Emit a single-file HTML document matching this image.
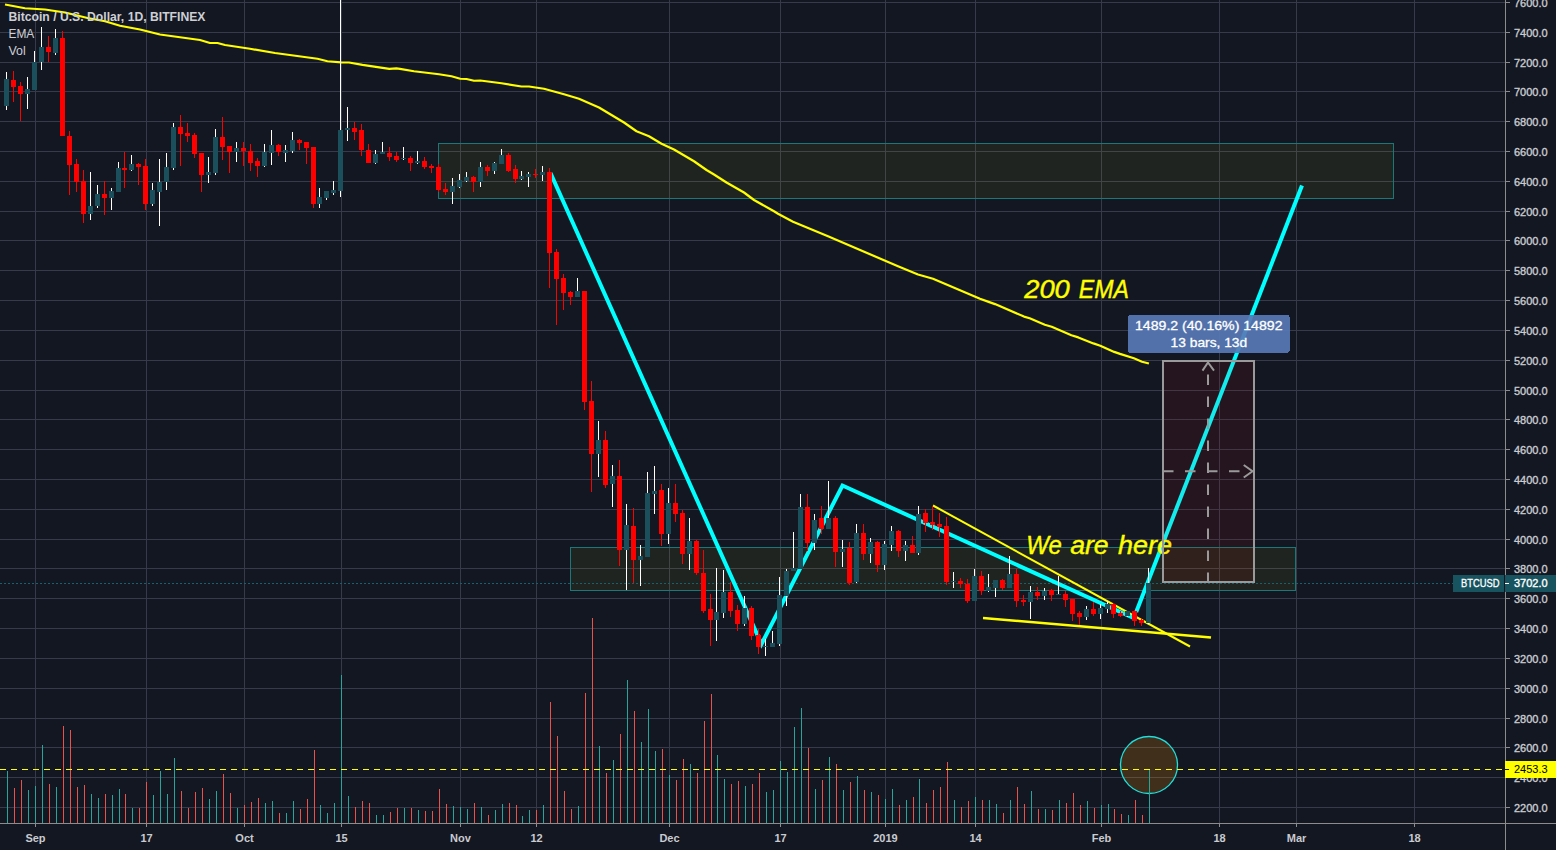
<!DOCTYPE html>
<html><head><meta charset="utf-8"><title>BTCUSD chart</title>
<style>html,body{margin:0;padding:0;background:#131722;width:1556px;height:850px;overflow:hidden}svg{display:block}text{font-family:"Liberation Sans",sans-serif}text,line,polyline,circle{shape-rendering:auto}</style>
</head><body>
<svg width="1556" height="850" viewBox="0 0 1556 850" shape-rendering="crispEdges"><g fill="#363a4a"><rect x="0" y="2" width="1505" height="1"/><rect x="0" y="32" width="1505" height="1"/><rect x="0" y="62" width="1505" height="1"/><rect x="0" y="91" width="1505" height="1"/><rect x="0" y="121" width="1505" height="1"/><rect x="0" y="151" width="1505" height="1"/><rect x="0" y="181" width="1505" height="1"/><rect x="0" y="211" width="1505" height="1"/><rect x="0" y="240" width="1505" height="1"/><rect x="0" y="270" width="1505" height="1"/><rect x="0" y="300" width="1505" height="1"/><rect x="0" y="330" width="1505" height="1"/><rect x="0" y="360" width="1505" height="1"/><rect x="0" y="390" width="1505" height="1"/><rect x="0" y="419" width="1505" height="1"/><rect x="0" y="449" width="1505" height="1"/><rect x="0" y="479" width="1505" height="1"/><rect x="0" y="509" width="1505" height="1"/><rect x="0" y="539" width="1505" height="1"/><rect x="0" y="568" width="1505" height="1"/><rect x="0" y="598" width="1505" height="1"/><rect x="0" y="628" width="1505" height="1"/><rect x="0" y="658" width="1505" height="1"/><rect x="0" y="688" width="1505" height="1"/><rect x="0" y="718" width="1505" height="1"/><rect x="0" y="747" width="1505" height="1"/><rect x="0" y="777" width="1505" height="1"/><rect x="0" y="807" width="1505" height="1"/><rect x="35" y="0" width="1" height="823"/><rect x="146" y="0" width="1" height="823"/><rect x="244" y="0" width="1" height="823"/><rect x="341" y="0" width="1" height="823"/><rect x="460" y="0" width="1" height="823"/><rect x="536" y="0" width="1" height="823"/><rect x="669" y="0" width="1" height="823"/><rect x="780" y="0" width="1" height="823"/><rect x="885" y="0" width="1" height="823"/><rect x="975" y="0" width="1" height="823"/><rect x="1101" y="0" width="1" height="823"/><rect x="1219" y="0" width="1" height="823"/><rect x="1296" y="0" width="1" height="823"/><rect x="1414" y="0" width="1" height="823"/></g>
<rect x="438.5" y="143.5" width="954.5" height="55" fill="rgba(255,255,0,0.06)" stroke="#1b7878" stroke-width="1"/>
<rect x="570.5" y="547.5" width="725" height="43" fill="rgba(255,255,0,0.06)" stroke="#1b7878" stroke-width="1"/>
<line x1="0" y1="583.5" x2="1453" y2="583.5" stroke="#1c5f6c" stroke-width="1" stroke-dasharray="2 2"/>
<circle cx="1149" cy="765" r="28.5" fill="rgba(255,152,0,0.19)" stroke="#1ee0dc" stroke-width="1.3"/>
<line x1="933" y1="505.5" x2="1190" y2="646.5" stroke="#ffff00" stroke-width="2"/>
<line x1="983" y1="618" x2="1211" y2="637.5" stroke="#ffff00" stroke-width="2.5"/>
<polyline points="550.5,173 761.5,644 842.5,485.5 1133,617.7" fill="none" stroke="#00ffff" stroke-width="4" stroke-linejoin="miter" stroke-miterlimit="10"/>
<line x1="1136.2" y1="612" x2="1302" y2="185.5" stroke="#00ffff" stroke-width="4"/>
<text x="1024.3" y="298" font-family="Liberation Sans, sans-serif" font-style="italic" font-size="25" fill="#ffff00" stroke="#ffff00" stroke-width="0.4" lengthAdjust="spacingAndGlyphs" textLength="45.5">200</text>
<text x="1078.8" y="298" font-family="Liberation Sans, sans-serif" font-style="italic" font-size="25" fill="#ffff00" stroke="#ffff00" stroke-width="0.4" lengthAdjust="spacingAndGlyphs" textLength="50">EMA</text>
<text x="1026.3" y="554.25" font-family="Liberation Sans, sans-serif" font-style="italic" font-size="25" fill="#ffff00" stroke="#ffff00" stroke-width="0.4" lengthAdjust="spacingAndGlyphs" textLength="35.5">We</text>
<text x="1070.2" y="554.25" font-family="Liberation Sans, sans-serif" font-style="italic" font-size="25" fill="#ffff00" stroke="#ffff00" stroke-width="0.4" lengthAdjust="spacingAndGlyphs" textLength="38.5">are</text>
<text x="1118" y="554.25" font-family="Liberation Sans, sans-serif" font-style="italic" font-size="25" fill="#ffff00" stroke="#ffff00" stroke-width="0.4" lengthAdjust="spacingAndGlyphs" textLength="54">here</text>
<rect x="1163" y="360.8" width="90.75" height="220.7" fill="rgba(255,0,0,0.075)"/>
<rect x="1163" y="360.8" width="90.75" height="220.7" fill="none" stroke="#9a9a9a" stroke-width="2"/>
<g stroke="#9a9a9a" stroke-width="2" fill="none"><line x1="1208" y1="581" x2="1208" y2="363" stroke-dasharray="10.5 11.5" stroke-dashoffset="2"/><line x1="1163" y1="471.25" x2="1252" y2="471.25" stroke-dasharray="10.5 11.5"/><polyline points="1202.5,370.6 1208,362.5 1214,370.6"/><polyline points="1243.75,465 1252.5,471.25 1243.75,477.5"/></g>
<rect x="1127.75" y="315" width="162" height="37.75" rx="3" fill="rgba(88,122,182,0.92)"/>
<text x="1135" y="330" font-family="Liberation Sans, sans-serif" font-size="12.5" fill="#ffffff" stroke="#ffffff" stroke-width="0.3" textLength="147.5" lengthAdjust="spacingAndGlyphs">1489.2 (40.16%) 14892</text>
<text x="1170.6" y="347" font-family="Liberation Sans, sans-serif" font-size="12.5" fill="#ffffff" stroke="#ffffff" stroke-width="0.3" textLength="76.6" lengthAdjust="spacingAndGlyphs">13 bars, 13d</text>
<g fill="#e8524a"><rect x="14" y="788" width="1" height="35"/><rect x="21" y="780" width="1" height="43"/><rect x="49" y="784" width="1" height="39"/><rect x="63" y="726" width="1" height="97"/><rect x="70" y="730" width="1" height="93"/><rect x="77" y="787" width="1" height="36"/><rect x="84" y="785" width="1" height="38"/><rect x="105" y="794" width="1" height="29"/><rect x="125" y="794" width="1" height="29"/><rect x="139" y="808" width="1" height="15"/><rect x="146" y="782" width="1" height="41"/><rect x="181" y="791" width="1" height="32"/><rect x="188" y="808" width="1" height="15"/><rect x="195" y="792" width="1" height="31"/><rect x="202" y="788" width="1" height="35"/><rect x="223" y="774" width="1" height="49"/><rect x="230" y="793" width="1" height="30"/><rect x="244" y="805" width="1" height="18"/><rect x="251" y="802" width="1" height="21"/><rect x="258" y="798" width="1" height="25"/><rect x="279" y="813" width="1" height="10"/><rect x="300" y="809" width="1" height="14"/><rect x="307" y="799" width="1" height="24"/><rect x="314" y="750" width="1" height="73"/><rect x="355" y="807" width="1" height="16"/><rect x="362" y="801" width="1" height="22"/><rect x="369" y="803" width="1" height="20"/><rect x="390" y="812" width="1" height="11"/><rect x="397" y="808" width="1" height="15"/><rect x="411" y="808" width="1" height="15"/><rect x="425" y="811" width="1" height="12"/><rect x="432" y="811" width="1" height="12"/><rect x="439" y="789" width="1" height="34"/><rect x="446" y="804" width="1" height="19"/><rect x="474" y="803" width="1" height="20"/><rect x="488" y="815" width="1" height="8"/><rect x="509" y="803" width="1" height="20"/><rect x="516" y="805" width="1" height="18"/><rect x="536" y="810" width="1" height="13"/><rect x="550" y="702" width="1" height="121"/><rect x="557" y="736" width="1" height="87"/><rect x="564" y="791" width="1" height="32"/><rect x="571" y="809" width="1" height="14"/><rect x="585" y="693" width="1" height="130"/><rect x="592" y="618" width="1" height="205"/><rect x="606" y="773" width="1" height="50"/><rect x="620" y="734" width="1" height="89"/><rect x="634" y="711" width="1" height="112"/><rect x="662" y="749" width="1" height="74"/><rect x="676" y="780" width="1" height="43"/><rect x="683" y="759" width="1" height="64"/><rect x="697" y="773" width="1" height="50"/><rect x="704" y="721" width="1" height="102"/><rect x="711" y="694" width="1" height="129"/><rect x="731" y="784" width="1" height="39"/><rect x="738" y="781" width="1" height="42"/><rect x="752" y="784" width="1" height="39"/><rect x="759" y="773" width="1" height="50"/><rect x="808" y="748" width="1" height="75"/><rect x="822" y="780" width="1" height="43"/><rect x="836" y="764" width="1" height="59"/><rect x="850" y="782" width="1" height="41"/><rect x="864" y="790" width="1" height="33"/><rect x="878" y="795" width="1" height="28"/><rect x="899" y="805" width="1" height="18"/><rect x="913" y="797" width="1" height="26"/><rect x="926" y="803" width="1" height="20"/><rect x="933" y="790" width="1" height="33"/><rect x="940" y="787" width="1" height="36"/><rect x="947" y="762" width="1" height="61"/><rect x="961" y="807" width="1" height="16"/><rect x="968" y="801" width="1" height="22"/><rect x="982" y="800" width="1" height="23"/><rect x="1003" y="813" width="1" height="10"/><rect x="1017" y="787" width="1" height="36"/><rect x="1024" y="804" width="1" height="19"/><rect x="1038" y="809" width="1" height="14"/><rect x="1052" y="810" width="1" height="13"/><rect x="1066" y="803" width="1" height="20"/><rect x="1073" y="793" width="1" height="30"/><rect x="1080" y="805" width="1" height="18"/><rect x="1094" y="808" width="1" height="15"/><rect x="1114" y="809" width="1" height="14"/><rect x="1121" y="814" width="1" height="9"/><rect x="1135" y="800" width="1" height="23"/><rect x="1142" y="815" width="1" height="8"/></g>
<g fill="#26a69a"><rect x="7" y="771" width="1" height="52"/><rect x="28" y="790" width="1" height="33"/><rect x="35" y="786" width="1" height="37"/><rect x="42" y="745" width="1" height="78"/><rect x="56" y="787" width="1" height="36"/><rect x="91" y="794" width="1" height="29"/><rect x="98" y="798" width="1" height="25"/><rect x="112" y="795" width="1" height="28"/><rect x="119" y="789" width="1" height="34"/><rect x="132" y="808" width="1" height="15"/><rect x="153" y="795" width="1" height="28"/><rect x="160" y="771" width="1" height="52"/><rect x="167" y="794" width="1" height="29"/><rect x="174" y="758" width="1" height="65"/><rect x="209" y="799" width="1" height="24"/><rect x="216" y="791" width="1" height="32"/><rect x="237" y="808" width="1" height="15"/><rect x="265" y="803" width="1" height="20"/><rect x="272" y="801" width="1" height="22"/><rect x="286" y="813" width="1" height="10"/><rect x="293" y="801" width="1" height="22"/><rect x="320" y="805" width="1" height="18"/><rect x="327" y="813" width="1" height="10"/><rect x="334" y="803" width="1" height="20"/><rect x="341" y="675" width="1" height="148"/><rect x="348" y="796" width="1" height="27"/><rect x="376" y="815" width="1" height="8"/><rect x="383" y="815" width="1" height="8"/><rect x="404" y="808" width="1" height="15"/><rect x="418" y="810" width="1" height="13"/><rect x="453" y="806" width="1" height="17"/><rect x="460" y="807" width="1" height="16"/><rect x="467" y="809" width="1" height="14"/><rect x="481" y="807" width="1" height="16"/><rect x="495" y="810" width="1" height="13"/><rect x="502" y="804" width="1" height="19"/><rect x="522" y="816" width="1" height="7"/><rect x="529" y="810" width="1" height="13"/><rect x="543" y="805" width="1" height="18"/><rect x="578" y="806" width="1" height="17"/><rect x="599" y="746" width="1" height="77"/><rect x="613" y="760" width="1" height="63"/><rect x="627" y="680" width="1" height="143"/><rect x="641" y="742" width="1" height="81"/><rect x="648" y="709" width="1" height="114"/><rect x="655" y="751" width="1" height="72"/><rect x="669" y="775" width="1" height="48"/><rect x="690" y="764" width="1" height="59"/><rect x="717" y="755" width="1" height="68"/><rect x="724" y="779" width="1" height="44"/><rect x="745" y="786" width="1" height="37"/><rect x="766" y="792" width="1" height="31"/><rect x="773" y="790" width="1" height="33"/><rect x="780" y="761" width="1" height="62"/><rect x="787" y="772" width="1" height="51"/><rect x="794" y="727" width="1" height="96"/><rect x="801" y="708" width="1" height="115"/><rect x="815" y="789" width="1" height="34"/><rect x="829" y="757" width="1" height="66"/><rect x="843" y="790" width="1" height="33"/><rect x="857" y="776" width="1" height="47"/><rect x="871" y="792" width="1" height="31"/><rect x="885" y="799" width="1" height="24"/><rect x="892" y="789" width="1" height="34"/><rect x="906" y="800" width="1" height="23"/><rect x="919" y="779" width="1" height="44"/><rect x="954" y="800" width="1" height="23"/><rect x="975" y="797" width="1" height="26"/><rect x="989" y="800" width="1" height="23"/><rect x="996" y="804" width="1" height="19"/><rect x="1010" y="800" width="1" height="23"/><rect x="1031" y="791" width="1" height="32"/><rect x="1045" y="809" width="1" height="14"/><rect x="1059" y="800" width="1" height="23"/><rect x="1087" y="801" width="1" height="22"/><rect x="1101" y="805" width="1" height="18"/><rect x="1108" y="804" width="1" height="19"/><rect x="1128" y="815" width="1" height="8"/><rect x="1149" y="770" width="1" height="53"/></g>
<line x1="0" y1="769.5" x2="1505" y2="769.5" stroke="#ffff00" stroke-width="1" stroke-dasharray="6 5" shape-rendering="crispEdges"/>
<polyline points="5,4.5 25,8.25 45,9.5 65,12.5 87.5,18 105,21.25 120,25.75 140,29.5 160,34.5 200,40 210,43 217.5,43 225,45 250,48.75 275,53 317.5,58.75 327.5,61.25 341,62.4 349,62.5 362.5,64.9 389.3,68.9 396.4,68.3 400,68.8 414,71.25 439,74.25 451.5,76.25 460.25,78.75 466.5,79 474,80.75 480.25,80.5 501.5,83.25 521.5,86.5 529,86.5 544,88.75 564,94.25 579,98.75 599,107.5 624,122.5 636.5,131.25 649,136.25 661.5,143.75 674,149.5 694,161.25 706.5,170 714,174.5 726.5,182.5 744,192.5 754,200 774,211.25 778,213.75 793,221.75 828,236.25 898,266.25 918,274.5 933,278.75 980,298.7 989.3,302.1 995,304.1 1024,316.6 1029.7,318.3 1044.8,324.7 1051.7,326.8 1071.4,335.3 1078.3,337.4 1093.4,343.4 1100.3,345.8 1114.2,351.9 1120,353.9 1133.9,358.3 1142,361.7 1148.9,363.5" fill="none" stroke="#ffff00" stroke-width="2.2" stroke-linejoin="round" shape-rendering="auto"/>
<g fill="#ffffff"><rect x="6" y="72" width="1" height="38"/><rect x="27" y="77" width="1" height="32"/><rect x="34" y="51" width="1" height="39"/><rect x="41" y="27" width="1" height="43"/><rect x="55" y="29" width="1" height="26"/><rect x="90" y="172" width="1" height="48"/><rect x="97" y="185" width="1" height="23"/><rect x="111" y="188" width="1" height="22"/><rect x="118" y="162" width="1" height="30"/><rect x="131" y="155" width="1" height="16"/><rect x="152" y="183" width="1" height="23"/><rect x="159" y="159" width="1" height="67"/><rect x="166" y="153" width="1" height="37"/><rect x="173" y="123" width="1" height="47"/><rect x="208" y="157" width="1" height="26"/><rect x="215" y="129" width="1" height="46"/><rect x="236" y="142" width="1" height="20"/><rect x="264" y="144" width="1" height="23"/><rect x="271" y="130" width="1" height="35"/><rect x="285" y="145" width="1" height="17"/><rect x="292" y="132" width="1" height="21"/><rect x="319" y="188" width="1" height="20"/><rect x="326" y="191" width="1" height="9"/><rect x="333" y="181" width="1" height="14"/><rect x="340" y="0" width="1" height="197"/><rect x="347" y="107" width="1" height="34"/><rect x="375" y="150" width="1" height="14"/><rect x="382" y="142" width="1" height="12"/><rect x="403" y="147" width="1" height="13"/><rect x="417" y="151" width="1" height="13"/><rect x="452" y="178" width="1" height="26"/><rect x="459" y="174" width="1" height="14"/><rect x="466" y="172" width="1" height="10"/><rect x="480" y="162" width="1" height="25"/><rect x="494" y="162" width="1" height="12"/><rect x="501" y="149" width="1" height="15"/><rect x="521" y="171" width="1" height="9"/><rect x="528" y="172" width="1" height="15"/><rect x="542" y="166" width="1" height="15"/><rect x="577" y="278" width="1" height="19"/><rect x="598" y="421" width="1" height="56"/><rect x="612" y="465" width="1" height="42"/><rect x="626" y="504" width="1" height="86"/><rect x="640" y="545" width="1" height="41"/><rect x="647" y="472" width="1" height="85"/><rect x="654" y="466" width="1" height="48"/><rect x="668" y="488" width="1" height="56"/><rect x="689" y="518" width="1" height="52"/><rect x="716" y="568" width="1" height="73"/><rect x="723" y="570" width="1" height="48"/><rect x="744" y="596" width="1" height="30"/><rect x="765" y="639" width="1" height="17"/><rect x="772" y="631" width="1" height="16"/><rect x="779" y="577" width="1" height="69"/><rect x="786" y="569" width="1" height="37"/><rect x="793" y="532" width="1" height="39"/><rect x="800" y="494" width="1" height="75"/><rect x="814" y="514" width="1" height="36"/><rect x="828" y="481" width="1" height="48"/><rect x="842" y="540" width="1" height="27"/><rect x="856" y="524" width="1" height="59"/><rect x="870" y="538" width="1" height="25"/><rect x="884" y="541" width="1" height="29"/><rect x="891" y="526" width="1" height="25"/><rect x="905" y="541" width="1" height="20"/><rect x="918" y="506" width="1" height="49"/><rect x="953" y="572" width="1" height="16"/><rect x="974" y="569" width="1" height="32"/><rect x="988" y="574" width="1" height="18"/><rect x="995" y="580" width="1" height="17"/><rect x="1009" y="556" width="1" height="32"/><rect x="1030" y="586" width="1" height="33"/><rect x="1044" y="588" width="1" height="12"/><rect x="1058" y="576" width="1" height="19"/><rect x="1086" y="606" width="1" height="14"/><rect x="1100" y="604" width="1" height="15"/><rect x="1107" y="601" width="1" height="12"/><rect x="1127" y="611" width="1" height="6"/><rect x="1148" y="568" width="1" height="56"/></g>
<g fill="#1b4f5c"><rect x="4" y="79" width="5" height="27"/><rect x="25" y="89" width="5" height="5"/><rect x="32" y="62" width="5" height="28"/><rect x="39" y="47" width="5" height="15"/><rect x="53" y="38" width="5" height="15"/><rect x="88" y="206" width="5" height="8"/><rect x="95" y="194" width="5" height="12"/><rect x="109" y="191" width="5" height="7"/><rect x="116" y="168" width="5" height="24"/><rect x="129" y="164" width="5" height="6"/><rect x="150" y="190" width="5" height="14"/><rect x="157" y="182" width="5" height="10"/><rect x="164" y="167" width="5" height="15"/><rect x="171" y="127" width="5" height="41"/><rect x="206" y="172" width="5" height="3"/><rect x="213" y="137" width="5" height="36"/><rect x="234" y="148" width="5" height="4"/><rect x="262" y="152" width="5" height="14"/><rect x="269" y="145" width="5" height="8"/><rect x="283" y="150" width="5" height="3"/><rect x="290" y="140" width="5" height="11"/><rect x="317" y="197" width="5" height="7"/><rect x="324" y="191" width="5" height="7"/><rect x="331" y="190" width="5" height="3"/><rect x="338" y="130" width="5" height="61"/><rect x="345" y="128" width="5" height="2"/><rect x="373" y="154" width="5" height="9"/><rect x="380" y="152" width="5" height="2"/><rect x="401" y="158" width="5" height="1"/><rect x="415" y="161" width="5" height="2"/><rect x="450" y="186" width="5" height="6"/><rect x="457" y="180" width="5" height="7"/><rect x="464" y="177" width="5" height="4"/><rect x="478" y="167" width="5" height="15"/><rect x="492" y="163" width="5" height="8"/><rect x="499" y="155" width="5" height="9"/><rect x="519" y="176" width="5" height="3"/><rect x="526" y="174" width="5" height="3"/><rect x="540" y="172" width="5" height="3"/><rect x="575" y="291" width="5" height="6"/><rect x="596" y="440" width="5" height="14"/><rect x="610" y="476" width="5" height="8"/><rect x="624" y="525" width="5" height="25"/><rect x="638" y="556" width="5" height="4"/><rect x="645" y="493" width="5" height="64"/><rect x="652" y="491" width="5" height="3"/><rect x="666" y="503" width="5" height="31"/><rect x="687" y="541" width="5" height="13"/><rect x="714" y="612" width="5" height="8"/><rect x="721" y="592" width="5" height="21"/><rect x="742" y="608" width="5" height="16"/><rect x="763" y="646" width="5" height="1"/><rect x="770" y="643" width="5" height="4"/><rect x="777" y="595" width="5" height="49"/><rect x="784" y="571" width="5" height="25"/><rect x="791" y="568" width="5" height="3"/><rect x="798" y="507" width="5" height="62"/><rect x="812" y="520" width="5" height="23"/><rect x="826" y="518" width="5" height="11"/><rect x="840" y="549" width="5" height="3"/><rect x="854" y="533" width="5" height="49"/><rect x="868" y="542" width="5" height="12"/><rect x="882" y="544" width="5" height="21"/><rect x="889" y="531" width="5" height="14"/><rect x="903" y="545" width="5" height="6"/><rect x="916" y="514" width="5" height="39"/><rect x="951" y="581" width="5" height="1"/><rect x="972" y="576" width="5" height="25"/><rect x="986" y="587" width="5" height="4"/><rect x="993" y="580" width="5" height="8"/><rect x="1007" y="574" width="5" height="14"/><rect x="1028" y="592" width="5" height="10"/><rect x="1042" y="591" width="5" height="5"/><rect x="1056" y="594" width="5" height="1"/><rect x="1084" y="609" width="5" height="8"/><rect x="1098" y="608" width="5" height="6"/><rect x="1105" y="604" width="5" height="5"/><rect x="1125" y="611" width="5" height="5"/><rect x="1146" y="583" width="5" height="40"/></g>
<g fill="#ff0000"><rect x="13" y="71" width="1" height="31"/><rect x="20" y="82" width="1" height="39"/><rect x="48" y="36" width="1" height="26"/><rect x="62" y="31" width="1" height="105"/><rect x="69" y="131" width="1" height="64"/><rect x="76" y="159" width="1" height="33"/><rect x="83" y="170" width="1" height="53"/><rect x="104" y="181" width="1" height="34"/><rect x="124" y="152" width="1" height="36"/><rect x="138" y="163" width="1" height="22"/><rect x="145" y="159" width="1" height="51"/><rect x="180" y="115" width="1" height="51"/><rect x="187" y="123" width="1" height="19"/><rect x="194" y="133" width="1" height="25"/><rect x="201" y="153" width="1" height="39"/><rect x="222" y="117" width="1" height="43"/><rect x="229" y="146" width="1" height="27"/><rect x="243" y="142" width="1" height="24"/><rect x="250" y="144" width="1" height="27"/><rect x="257" y="158" width="1" height="19"/><rect x="278" y="144" width="1" height="12"/><rect x="299" y="139" width="1" height="11"/><rect x="306" y="142" width="1" height="22"/><rect x="313" y="147" width="1" height="61"/><rect x="354" y="122" width="1" height="18"/><rect x="361" y="124" width="1" height="32"/><rect x="368" y="144" width="1" height="19"/><rect x="389" y="147" width="1" height="14"/><rect x="396" y="152" width="1" height="10"/><rect x="410" y="156" width="1" height="15"/><rect x="424" y="157" width="1" height="12"/><rect x="431" y="164" width="1" height="9"/><rect x="438" y="164" width="1" height="28"/><rect x="445" y="183" width="1" height="12"/><rect x="473" y="176" width="1" height="16"/><rect x="487" y="165" width="1" height="11"/><rect x="508" y="153" width="1" height="19"/><rect x="515" y="165" width="1" height="18"/><rect x="535" y="169" width="1" height="9"/><rect x="549" y="168" width="1" height="120"/><rect x="556" y="249" width="1" height="76"/><rect x="563" y="274" width="1" height="36"/><rect x="570" y="291" width="1" height="14"/><rect x="584" y="291" width="1" height="119"/><rect x="591" y="381" width="1" height="111"/><rect x="605" y="431" width="1" height="57"/><rect x="619" y="460" width="1" height="106"/><rect x="633" y="508" width="1" height="75"/><rect x="661" y="484" width="1" height="62"/><rect x="675" y="484" width="1" height="38"/><rect x="682" y="510" width="1" height="54"/><rect x="696" y="540" width="1" height="35"/><rect x="703" y="550" width="1" height="63"/><rect x="710" y="594" width="1" height="52"/><rect x="730" y="582" width="1" height="35"/><rect x="737" y="605" width="1" height="26"/><rect x="751" y="606" width="1" height="34"/><rect x="758" y="629" width="1" height="25"/><rect x="807" y="494" width="1" height="57"/><rect x="821" y="506" width="1" height="28"/><rect x="835" y="516" width="1" height="51"/><rect x="849" y="542" width="1" height="43"/><rect x="863" y="524" width="1" height="36"/><rect x="877" y="541" width="1" height="31"/><rect x="898" y="530" width="1" height="27"/><rect x="912" y="536" width="1" height="17"/><rect x="925" y="509" width="1" height="23"/><rect x="932" y="506" width="1" height="24"/><rect x="939" y="513" width="1" height="24"/><rect x="946" y="517" width="1" height="68"/><rect x="960" y="578" width="1" height="10"/><rect x="967" y="579" width="1" height="24"/><rect x="981" y="571" width="1" height="24"/><rect x="1002" y="579" width="1" height="11"/><rect x="1016" y="569" width="1" height="38"/><rect x="1023" y="595" width="1" height="11"/><rect x="1037" y="587" width="1" height="13"/><rect x="1051" y="589" width="1" height="12"/><rect x="1065" y="591" width="1" height="16"/><rect x="1072" y="599" width="1" height="22"/><rect x="1079" y="611" width="1" height="14"/><rect x="1093" y="602" width="1" height="14"/><rect x="1113" y="603" width="1" height="15"/><rect x="1120" y="611" width="1" height="6"/><rect x="1134" y="610" width="1" height="16"/><rect x="1141" y="618" width="1" height="8"/><rect x="11" y="80" width="5" height="7"/><rect x="18" y="86" width="5" height="8"/><rect x="46" y="47" width="5" height="5"/><rect x="60" y="38" width="5" height="98"/><rect x="67" y="136" width="5" height="29"/><rect x="74" y="164" width="5" height="18"/><rect x="81" y="181" width="5" height="33"/><rect x="102" y="194" width="5" height="4"/><rect x="122" y="168" width="5" height="2"/><rect x="136" y="164" width="5" height="3"/><rect x="143" y="166" width="5" height="38"/><rect x="178" y="127" width="5" height="7"/><rect x="185" y="133" width="5" height="3"/><rect x="192" y="135" width="5" height="19"/><rect x="199" y="153" width="5" height="22"/><rect x="220" y="137" width="5" height="10"/><rect x="227" y="146" width="5" height="6"/><rect x="241" y="148" width="5" height="3"/><rect x="248" y="151" width="5" height="12"/><rect x="255" y="161" width="5" height="5"/><rect x="276" y="145" width="5" height="7"/><rect x="297" y="140" width="5" height="3"/><rect x="304" y="142" width="5" height="6"/><rect x="311" y="147" width="5" height="57"/><rect x="352" y="128" width="5" height="4"/><rect x="359" y="130" width="5" height="20"/><rect x="366" y="150" width="5" height="13"/><rect x="387" y="153" width="5" height="4"/><rect x="394" y="156" width="5" height="4"/><rect x="408" y="158" width="5" height="5"/><rect x="422" y="161" width="5" height="6"/><rect x="429" y="166" width="5" height="2"/><rect x="436" y="167" width="5" height="23"/><rect x="443" y="189" width="5" height="3"/><rect x="471" y="177" width="5" height="5"/><rect x="485" y="167" width="5" height="4"/><rect x="506" y="155" width="5" height="16"/><rect x="513" y="169" width="5" height="10"/><rect x="533" y="174" width="5" height="1"/><rect x="547" y="172" width="5" height="81"/><rect x="554" y="252" width="5" height="27"/><rect x="561" y="278" width="5" height="15"/><rect x="568" y="292" width="5" height="5"/><rect x="582" y="291" width="5" height="111"/><rect x="589" y="401" width="5" height="53"/><rect x="603" y="440" width="5" height="45"/><rect x="617" y="476" width="5" height="74"/><rect x="631" y="526" width="5" height="34"/><rect x="659" y="490" width="5" height="44"/><rect x="673" y="503" width="5" height="11"/><rect x="680" y="513" width="5" height="41"/><rect x="694" y="541" width="5" height="32"/><rect x="701" y="573" width="5" height="38"/><rect x="708" y="609" width="5" height="11"/><rect x="728" y="592" width="5" height="19"/><rect x="735" y="610" width="5" height="14"/><rect x="749" y="608" width="5" height="28"/><rect x="756" y="635" width="5" height="12"/><rect x="805" y="507" width="5" height="36"/><rect x="819" y="518" width="5" height="11"/><rect x="833" y="518" width="5" height="34"/><rect x="847" y="548" width="5" height="35"/><rect x="861" y="533" width="5" height="21"/><rect x="875" y="542" width="5" height="23"/><rect x="896" y="531" width="5" height="20"/><rect x="910" y="545" width="5" height="8"/><rect x="923" y="513" width="5" height="10"/><rect x="930" y="522" width="5" height="3"/><rect x="937" y="524" width="5" height="3"/><rect x="944" y="526" width="5" height="56"/><rect x="958" y="581" width="5" height="3"/><rect x="965" y="584" width="5" height="17"/><rect x="979" y="576" width="5" height="15"/><rect x="1000" y="580" width="5" height="8"/><rect x="1014" y="574" width="5" height="27"/><rect x="1021" y="600" width="5" height="2"/><rect x="1035" y="592" width="5" height="4"/><rect x="1049" y="590" width="5" height="5"/><rect x="1063" y="594" width="5" height="6"/><rect x="1070" y="599" width="5" height="15"/><rect x="1077" y="613" width="5" height="4"/><rect x="1091" y="609" width="5" height="5"/><rect x="1111" y="604" width="5" height="10"/><rect x="1118" y="613" width="5" height="3"/><rect x="1132" y="611" width="5" height="10"/><rect x="1139" y="620" width="5" height="3"/></g>
<text x="8.5" y="21" font-family="Liberation Sans, sans-serif" font-size="12.6" font-weight="bold" fill="#cdcfd4" textLength="197" lengthAdjust="spacingAndGlyphs">Bitcoin / U.S. Dollar, 1D, BITFINEX</text>
<text x="8.5" y="38" font-family="Liberation Sans, sans-serif" font-size="12.6" fill="#cdcfd4" textLength="25.8" lengthAdjust="spacingAndGlyphs">EMA</text>
<text x="8.5" y="55" font-family="Liberation Sans, sans-serif" font-size="12.6" fill="#cdcfd4" textLength="17.3" lengthAdjust="spacingAndGlyphs">Vol</text>
<rect x="0" y="823" width="1556" height="1" fill="#8c8c8c"/>
<rect x="1505" y="0" width="1" height="850" fill="#8c8c8c"/>
<rect x="35" y="824" width="1" height="3" fill="#8c8c8c"/><text x="35.5" y="842" text-anchor="middle" font-family="Liberation Sans, sans-serif" font-size="11" font-weight="bold" fill="#c9cbd0">Sep</text><rect x="146" y="824" width="1" height="3" fill="#8c8c8c"/><text x="146.5" y="842" text-anchor="middle" font-family="Liberation Sans, sans-serif" font-size="11" font-weight="bold" fill="#c9cbd0">17</text><rect x="244" y="824" width="1" height="3" fill="#8c8c8c"/><text x="244.5" y="842" text-anchor="middle" font-family="Liberation Sans, sans-serif" font-size="11" font-weight="bold" fill="#c9cbd0">Oct</text><rect x="341" y="824" width="1" height="3" fill="#8c8c8c"/><text x="341.5" y="842" text-anchor="middle" font-family="Liberation Sans, sans-serif" font-size="11" font-weight="bold" fill="#c9cbd0">15</text><rect x="460" y="824" width="1" height="3" fill="#8c8c8c"/><text x="460.5" y="842" text-anchor="middle" font-family="Liberation Sans, sans-serif" font-size="11" font-weight="bold" fill="#c9cbd0">Nov</text><rect x="536" y="824" width="1" height="3" fill="#8c8c8c"/><text x="536.5" y="842" text-anchor="middle" font-family="Liberation Sans, sans-serif" font-size="11" font-weight="bold" fill="#c9cbd0">12</text><rect x="669" y="824" width="1" height="3" fill="#8c8c8c"/><text x="669.5" y="842" text-anchor="middle" font-family="Liberation Sans, sans-serif" font-size="11" font-weight="bold" fill="#c9cbd0">Dec</text><rect x="780" y="824" width="1" height="3" fill="#8c8c8c"/><text x="780.5" y="842" text-anchor="middle" font-family="Liberation Sans, sans-serif" font-size="11" font-weight="bold" fill="#c9cbd0">17</text><rect x="885" y="824" width="1" height="3" fill="#8c8c8c"/><text x="885.5" y="842" text-anchor="middle" font-family="Liberation Sans, sans-serif" font-size="11" font-weight="bold" fill="#c9cbd0">2019</text><rect x="975" y="824" width="1" height="3" fill="#8c8c8c"/><text x="975.5" y="842" text-anchor="middle" font-family="Liberation Sans, sans-serif" font-size="11" font-weight="bold" fill="#c9cbd0">14</text><rect x="1101" y="824" width="1" height="3" fill="#8c8c8c"/><text x="1101.5" y="842" text-anchor="middle" font-family="Liberation Sans, sans-serif" font-size="11" font-weight="bold" fill="#c9cbd0">Feb</text><rect x="1219" y="824" width="1" height="3" fill="#8c8c8c"/><text x="1219.5" y="842" text-anchor="middle" font-family="Liberation Sans, sans-serif" font-size="11" font-weight="bold" fill="#c9cbd0">18</text><rect x="1296" y="824" width="1" height="3" fill="#8c8c8c"/><text x="1296.5" y="842" text-anchor="middle" font-family="Liberation Sans, sans-serif" font-size="11" font-weight="bold" fill="#c9cbd0">Mar</text><rect x="1414" y="824" width="1" height="3" fill="#8c8c8c"/><text x="1414.5" y="842" text-anchor="middle" font-family="Liberation Sans, sans-serif" font-size="11" font-weight="bold" fill="#c9cbd0">18</text>
<rect x="1506" y="2" width="4" height="1" fill="#8c8c8c"/><text x="1514" y="6.8" font-family="Liberation Sans, sans-serif" font-size="11" fill="#c9cbd0" stroke="#c9cbd0" stroke-width="0.35">7600.0</text><rect x="1506" y="32" width="4" height="1" fill="#8c8c8c"/><text x="1514" y="36.8" font-family="Liberation Sans, sans-serif" font-size="11" fill="#c9cbd0" stroke="#c9cbd0" stroke-width="0.35">7400.0</text><rect x="1506" y="62" width="4" height="1" fill="#8c8c8c"/><text x="1514" y="66.8" font-family="Liberation Sans, sans-serif" font-size="11" fill="#c9cbd0" stroke="#c9cbd0" stroke-width="0.35">7200.0</text><rect x="1506" y="91" width="4" height="1" fill="#8c8c8c"/><text x="1514" y="95.8" font-family="Liberation Sans, sans-serif" font-size="11" fill="#c9cbd0" stroke="#c9cbd0" stroke-width="0.35">7000.0</text><rect x="1506" y="121" width="4" height="1" fill="#8c8c8c"/><text x="1514" y="125.8" font-family="Liberation Sans, sans-serif" font-size="11" fill="#c9cbd0" stroke="#c9cbd0" stroke-width="0.35">6800.0</text><rect x="1506" y="151" width="4" height="1" fill="#8c8c8c"/><text x="1514" y="155.8" font-family="Liberation Sans, sans-serif" font-size="11" fill="#c9cbd0" stroke="#c9cbd0" stroke-width="0.35">6600.0</text><rect x="1506" y="181" width="4" height="1" fill="#8c8c8c"/><text x="1514" y="185.8" font-family="Liberation Sans, sans-serif" font-size="11" fill="#c9cbd0" stroke="#c9cbd0" stroke-width="0.35">6400.0</text><rect x="1506" y="211" width="4" height="1" fill="#8c8c8c"/><text x="1514" y="215.8" font-family="Liberation Sans, sans-serif" font-size="11" fill="#c9cbd0" stroke="#c9cbd0" stroke-width="0.35">6200.0</text><rect x="1506" y="240" width="4" height="1" fill="#8c8c8c"/><text x="1514" y="244.8" font-family="Liberation Sans, sans-serif" font-size="11" fill="#c9cbd0" stroke="#c9cbd0" stroke-width="0.35">6000.0</text><rect x="1506" y="270" width="4" height="1" fill="#8c8c8c"/><text x="1514" y="274.8" font-family="Liberation Sans, sans-serif" font-size="11" fill="#c9cbd0" stroke="#c9cbd0" stroke-width="0.35">5800.0</text><rect x="1506" y="300" width="4" height="1" fill="#8c8c8c"/><text x="1514" y="304.8" font-family="Liberation Sans, sans-serif" font-size="11" fill="#c9cbd0" stroke="#c9cbd0" stroke-width="0.35">5600.0</text><rect x="1506" y="330" width="4" height="1" fill="#8c8c8c"/><text x="1514" y="334.8" font-family="Liberation Sans, sans-serif" font-size="11" fill="#c9cbd0" stroke="#c9cbd0" stroke-width="0.35">5400.0</text><rect x="1506" y="360" width="4" height="1" fill="#8c8c8c"/><text x="1514" y="364.8" font-family="Liberation Sans, sans-serif" font-size="11" fill="#c9cbd0" stroke="#c9cbd0" stroke-width="0.35">5200.0</text><rect x="1506" y="390" width="4" height="1" fill="#8c8c8c"/><text x="1514" y="394.8" font-family="Liberation Sans, sans-serif" font-size="11" fill="#c9cbd0" stroke="#c9cbd0" stroke-width="0.35">5000.0</text><rect x="1506" y="419" width="4" height="1" fill="#8c8c8c"/><text x="1514" y="423.8" font-family="Liberation Sans, sans-serif" font-size="11" fill="#c9cbd0" stroke="#c9cbd0" stroke-width="0.35">4800.0</text><rect x="1506" y="449" width="4" height="1" fill="#8c8c8c"/><text x="1514" y="453.8" font-family="Liberation Sans, sans-serif" font-size="11" fill="#c9cbd0" stroke="#c9cbd0" stroke-width="0.35">4600.0</text><rect x="1506" y="479" width="4" height="1" fill="#8c8c8c"/><text x="1514" y="483.8" font-family="Liberation Sans, sans-serif" font-size="11" fill="#c9cbd0" stroke="#c9cbd0" stroke-width="0.35">4400.0</text><rect x="1506" y="509" width="4" height="1" fill="#8c8c8c"/><text x="1514" y="513.8" font-family="Liberation Sans, sans-serif" font-size="11" fill="#c9cbd0" stroke="#c9cbd0" stroke-width="0.35">4200.0</text><rect x="1506" y="539" width="4" height="1" fill="#8c8c8c"/><text x="1514" y="543.8" font-family="Liberation Sans, sans-serif" font-size="11" fill="#c9cbd0" stroke="#c9cbd0" stroke-width="0.35">4000.0</text><rect x="1506" y="568" width="4" height="1" fill="#8c8c8c"/><text x="1514" y="572.8" font-family="Liberation Sans, sans-serif" font-size="11" fill="#c9cbd0" stroke="#c9cbd0" stroke-width="0.35">3800.0</text><rect x="1506" y="598" width="4" height="1" fill="#8c8c8c"/><text x="1514" y="602.8" font-family="Liberation Sans, sans-serif" font-size="11" fill="#c9cbd0" stroke="#c9cbd0" stroke-width="0.35">3600.0</text><rect x="1506" y="628" width="4" height="1" fill="#8c8c8c"/><text x="1514" y="632.8" font-family="Liberation Sans, sans-serif" font-size="11" fill="#c9cbd0" stroke="#c9cbd0" stroke-width="0.35">3400.0</text><rect x="1506" y="658" width="4" height="1" fill="#8c8c8c"/><text x="1514" y="662.8" font-family="Liberation Sans, sans-serif" font-size="11" fill="#c9cbd0" stroke="#c9cbd0" stroke-width="0.35">3200.0</text><rect x="1506" y="688" width="4" height="1" fill="#8c8c8c"/><text x="1514" y="692.8" font-family="Liberation Sans, sans-serif" font-size="11" fill="#c9cbd0" stroke="#c9cbd0" stroke-width="0.35">3000.0</text><rect x="1506" y="718" width="4" height="1" fill="#8c8c8c"/><text x="1514" y="722.8" font-family="Liberation Sans, sans-serif" font-size="11" fill="#c9cbd0" stroke="#c9cbd0" stroke-width="0.35">2800.0</text><rect x="1506" y="747" width="4" height="1" fill="#8c8c8c"/><text x="1514" y="751.8" font-family="Liberation Sans, sans-serif" font-size="11" fill="#c9cbd0" stroke="#c9cbd0" stroke-width="0.35">2600.0</text><rect x="1506" y="777" width="4" height="1" fill="#8c8c8c"/><text x="1514" y="781.8" font-family="Liberation Sans, sans-serif" font-size="11" fill="#c9cbd0" stroke="#c9cbd0" stroke-width="0.35">2400.0</text><rect x="1506" y="807" width="4" height="1" fill="#8c8c8c"/><text x="1514" y="811.8" font-family="Liberation Sans, sans-serif" font-size="11" fill="#c9cbd0" stroke="#c9cbd0" stroke-width="0.35">2200.0</text>
<rect x="1453" y="575" width="51" height="17" fill="#185460"/>
<rect x="1505" y="575" width="51" height="17" fill="#185460"/>
<text x="1461" y="587" font-family="Liberation Sans, sans-serif" font-size="11" fill="#ffffff" stroke="#ffffff" stroke-width="0.3" textLength="38.5" lengthAdjust="spacingAndGlyphs">BTCUSD</text>
<text x="1514" y="587" font-family="Liberation Sans, sans-serif" font-size="11" fill="#ffffff" stroke="#ffffff" stroke-width="0.35">3702.0</text>
<rect x="1505" y="583" width="4" height="1" fill="#ffffff"/>
<rect x="1505" y="761" width="51" height="17" fill="#ffff00"/>
<text x="1514" y="772.8" font-family="Liberation Sans, sans-serif" font-size="11" fill="#000000">2453.3</text>
<rect x="1505" y="769" width="4" height="1" fill="#131722"/></svg>
</body></html>
